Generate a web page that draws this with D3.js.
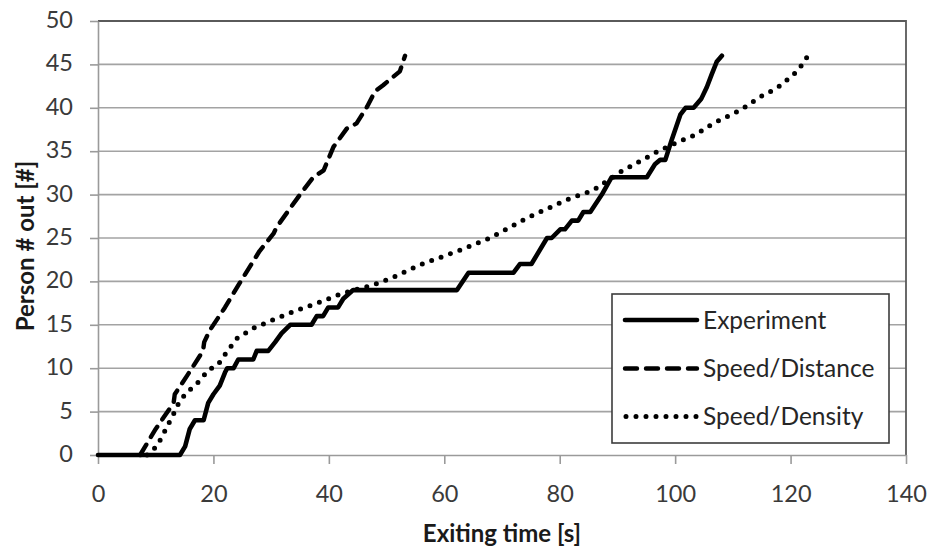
<!DOCTYPE html>
<html>
<head>
<meta charset="utf-8">
<script src="https://cdn.jsdelivr.net/npm/d3@7"></script>
<style>
  html, body { margin: 0; padding: 0; background: #fff; }
  svg { display: block; }
  text { font-family: Lato, "Open Sans", sans-serif; }
</style>
</head>
<body>
<svg id="chart" width="928" height="546"></svg>
<script>
// Cumulative number of persons out vs. exiting time [s]
const experiment = [
  [0, 0], [14.2, 0], [15.1, 1], [15.9, 3], [16.8, 4], [18.3, 4], [19.1, 6], [20, 7],
  [21.1, 8], [22, 9.5], [22.4, 10], [23.5, 10], [24.3, 11], [26.9, 11], [27.5, 12],
  [29.5, 12], [30.7, 13], [31.8, 14], [33.3, 15], [37, 15], [37.9, 16], [39, 16],
  [39.9, 17], [41.6, 17], [42.5, 18], [44.2, 19], [62.2, 19], [64.2, 21], [72, 21],
  [73.1, 22], [75.1, 22], [77.8, 25], [78.6, 25], [80.1, 26], [80.9, 26], [82.1, 27],
  [83.2, 27], [84.1, 28], [85.3, 28], [87.3, 30], [89, 32], [95.1, 32], [96.5, 33.5],
  [97.4, 34], [98.3, 34], [99.4, 36.3], [100.9, 39.2], [101.8, 40], [103.2, 40],
  [104.5, 41], [105.5, 42.4], [106.3, 43.8], [107.2, 45.3], [108.1, 46]
];

const speedDistance = [
  [7.3, 0], [10, 3], [13.1, 6], [13.3, 7], [15.5, 9.2], [18.2, 12], [18.4, 13],
  [19.4, 14.4], [22, 17], [25, 20.3], [28, 23.5], [30.4, 25.5], [31, 26.3], [35, 30],
  [37.3, 32], [39.1, 32.8], [40.8, 35.5], [43.1, 37.6], [44.8, 38.2], [46.6, 40.1],
  [48, 41.9], [49.4, 42.6], [52.3, 44.2], [53.2, 46]
];

const speedDensity = [
  [8.5, 0], [10.2, 1], [11, 2], [13.3, 5], [14.2, 6.3], [15.9, 7.5], [17.7, 8.6],
  [19.1, 9.8], [20.8, 10.4], [21.7, 11.3], [24, 13.4], [26.9, 14.6], [30.4, 15.6],
  [33.8, 16.5], [38.8, 17.7], [42.2, 18.6], [47.7, 19.6], [50.9, 20.4], [55.8, 21.9],
  [62.7, 23.6], [67.9, 25], [74.3, 27.3], [81.2, 29.4], [85.8, 30.5], [90.5, 32.6],
  [96.8, 34.9], [100.3, 36], [103.5, 36.9], [106.6, 38.2], [111.5, 39.8],
  [114.6, 41.2], [117.7, 42.3], [120.5, 43.8], [121.7, 44.7], [122.8, 45.8]
];

const xTicks = [0, 20, 40, 60, 80, 100, 120, 140];
const yTicks = [0, 5, 10, 15, 20, 25, 30, 35, 40, 45, 50];
const seriesNames = ["Experiment", "Speed/Distance", "Speed/Density"];

const svg = d3.select("#chart");
const plotLeft = 98, plotRight = 906, plotTop = 21, plotBottom = 455;

const x = d3.scaleLinear().domain([0, 140]).range([plotLeft, plotRight]);
const y = d3.scaleLinear().domain([0, 50]).range([plotBottom, plotTop]);

// horizontal gridlines
svg.append("g")
  .selectAll("line")
  .data(yTicks.filter(v => v > 0 && v < 50))
  .join("line")
  .attr("x1", plotLeft).attr("x2", plotRight)
  .attr("y1", d => y(d)).attr("y2", d => y(d))
  .attr("stroke", "#a3a3a3").attr("stroke-width", 1.6);

// plot area frame (top and right edges)
svg.append("path")
  .attr("d", `M${plotLeft},${plotTop}H${plotRight}V${plotBottom}`)
  .attr("fill", "none").attr("stroke", "#5a5a5a").attr("stroke-width", 1.8);

// axes
const yAxis = svg.append("g")
  .attr("transform", `translate(${plotLeft},0)`)
  .call(d3.axisLeft(y).tickValues(yTicks).tickSize(8).tickSizeOuter(0).tickPadding(17));
const xAxis = svg.append("g")
  .attr("transform", `translate(0,${plotBottom})`)
  .call(d3.axisBottom(x).tickValues(xTicks).tickSize(9).tickSizeOuter(0).tickPadding(21));

[yAxis, xAxis].forEach(g => {
  g.select(".domain").attr("stroke", "#9a9a9a").attr("stroke-width", 1.6);
  g.selectAll(".tick line").attr("stroke", "#9a9a9a").attr("stroke-width", 1.6);
  g.selectAll(".tick text")
    .attr("fill", "#3a3a3a")
    .style("font-family", "Lato, sans-serif")
    .style("font-size", "23.5px");
});
yAxis.selectAll(".tick text").attr("dy", "0.28em");

// series lines
const line = d3.line().x(d => x(d[0])).y(d => y(d[1]));
const styles = [
  { data: experiment, dash: null, cap: "round", width: 4.6 },
  { data: speedDistance, dash: "12,9", cap: "round", width: 4.4 },
  { data: speedDensity, dash: "0,10", cap: "round", width: 5 }
];

svg.append("g")
  .selectAll("path")
  .data(styles)
  .join("path")
  .attr("d", d => line(d.data))
  .attr("fill", "none")
  .attr("stroke", "#000")
  .attr("stroke-width", d => d.width)
  .attr("stroke-linejoin", "round")
  .attr("stroke-linecap", d => d.cap)
  .attr("stroke-dasharray", d => d.dash);

// legend
const legend = svg.append("g").attr("transform", "translate(612,294)");
legend.append("rect")
  .attr("width", 277).attr("height", 149)
  .attr("fill", "#fff").attr("stroke", "#3c3c3c").attr("stroke-width", 1.6);

const rowY = [26, 74.5, 122.5];
const items = legend.selectAll("g.item")
  .data(styles)
  .join("g")
  .attr("class", "item")
  .attr("transform", (d, i) => `translate(0,${rowY[i]})`);

items.append("line")
  .attr("x1", d => d.dash === "0,10" ? 14 : 13)
  .attr("x2", 85)
  .attr("stroke", "#000")
  .attr("stroke-width", d => d.width)
  .attr("stroke-linecap", d => d.cap)
  .attr("stroke-dasharray", d => d.dash);

items.append("text")
  .attr("x", 91)
  .attr("y", 8.8)
  .attr("fill", "#262626")
  .style("font-size", "24.5px")
  .text((d, i) => seriesNames[i]);

// axis titles
svg.append("text")
  .attr("x", (plotLeft + plotRight) / 2)
  .attr("y", 542)
  .attr("text-anchor", "middle")
  .attr("fill", "#1a1a1a")
  .style("font-weight", "bold")
  .style("font-size", "24px")
  .text("Exiting time [s]");

svg.append("text")
  .attr("transform", `translate(34,${(plotTop + plotBottom) / 2 + 8}) rotate(-90)`)
  .attr("text-anchor", "middle")
  .attr("fill", "#1a1a1a")
  .style("font-weight", "bold")
  .style("font-size", "24px")
  .text("Person # out [#]");
</script>
</body>
</html>
